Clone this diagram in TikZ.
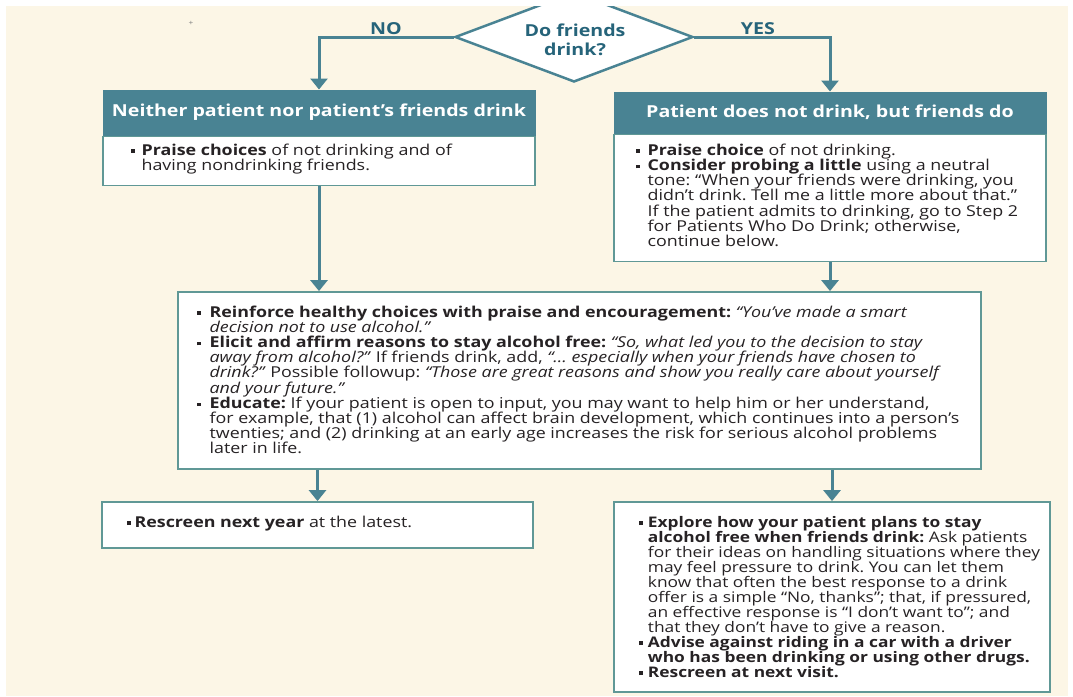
\documentclass[tikz,border=0pt]{standalone}
\usepackage{fontspec}
\setmainfont{Open Sans}[FakeStretch=1.19]
\usetikzlibrary{shapes.geometric,arrows.meta}
\frenchspacing
\definecolor{cream}{RGB}{252,246,230}
\definecolor{teal}{RGB}{73,131,147}
\definecolor{boxline}{RGB}{96,152,150}
\definecolor{ink}{RGB}{38,34,36}
\definecolor{qtext}{RGB}{38,100,122}
\newcommand\sq{\raisebox{0.25ex}{\rule{3.6pt}{3.6pt}}}
\newlength\bw
\newcommand\blist[3]{\setlength\bw{#1}\vtop{\baselineskip=#2\relax\lineskiplimit=-50pt\lineskip=0pt\relax #3}}
\newcommand\bi[1]{\hbox{\hbox to\bw{\sq\hss}#1}}
\newcommand\cl[1]{\hbox{\hbox to\bw{\hss}#1}}
\tikzset{
  arr/.style={draw=teal, line width=3pt, -{Triangle[width=17pt,length=11pt]}},
  head/.style={fill=teal, draw=teal, line width=1pt, text=white, inner sep=0pt,
    font=\bfseries\fontsize{16.5}{18}\selectfont},
  body/.style={fill=white, draw=boxline, line width=1.8pt, inner sep=0pt},
  txt/.style={anchor=base west, inner sep=0pt, outer sep=0pt, text=ink,
    font=\fontsize{15}{15.2}\selectfont},
  dia/.style={diamond, aspect=2.6, fill=white, draw=teal, line width=2.5pt,
    minimum width=238pt, minimum height=90pt, inner sep=0pt},
  qlbl/.style={text=qtext, inner sep=0pt, align=center,
    font=\bfseries\fontsize{16.5}{19}\selectfont}
}
\begin{document}
\begin{tikzpicture}[x=1pt,y=-1pt]
\useasboundingbox (0,0) rectangle (1073,696);
\fill[cream] (6,6) rectangle (1068,696);
\node[text=gray, inner sep=0pt, font=\fontsize{7}{7}\selectfont] (mark) at (191,23) {+};

% decision
\begin{scope}
\clip (0,6) rectangle (1073,700);
\node[dia] (q) at (574,37) {};
\end{scope}
\node[qlbl] (qt) at (575,40) {Do friends\\drink?};
\node[qlbl] (no) at (386,29) {NO};
\node[qlbl] (yes) at (758,29) {YES};

% left branch
\node[head, minimum width=432pt, minimum height=45pt] (h1) at (319,112.5)
  {Neither patient nor patient’s friends drink};
\node[body, minimum width=432pt, minimum height=49pt, anchor=north] (b1) at (h1.south) {};
\node[txt] (t1) at (131,155) {\blist{10.6pt}{15.2pt}{%
\bi{\textbf{Praise choices} of not drinking and of}
\cl{having nondrinking friends.}}};

% right branch
\node[head, minimum width=432pt, minimum height=41pt] (h2) at (830,112.5)
  {Patient does not drink, but friends do};
\node[body, minimum width=432pt, minimum height=127pt, anchor=north] (b2) at (h2.south) {};
\node[txt] (t2) at (636,155) {\blist{11.6pt}{15.3pt}{%
\bi{\textbf{Praise choice} of not drinking.}
\bi{\textbf{Consider probing a little} using a neutral}
\cl{tone: “When your friends were drinking, you}
\cl{didn’t drink. Tell me a little more about that.”}
\cl{If the patient admits to drinking, go to Step 2}
\cl{for Patients Who Do Drink; otherwise,}
\cl{continue below.}}};

% middle
\node[body, minimum width=803pt, minimum height=177pt] (m) at (579.5,380.5) {};
\node[txt] (tm) at (197,317) {\blist{12.6pt}{15.2pt}{%
\bi{\textbf{Reinforce healthy choices with praise and encouragement:} \textit{“You’ve made a smart}}
\cl{\textit{decision not to use alcohol.”}}
\bi{\textbf{Elicit and affirm reasons to stay alcohol free:} \textit{“So, what led you to the decision to stay}}
\cl{\textit{away from alcohol?”} If friends drink, add, \textit{“… especially when your friends have chosen to}}
\cl{\textit{drink?”} Possible followup: \textit{“Those are great reasons and show you really care about yourself}}
\cl{\textit{and your future.”}}
\bi{\textbf{Educate:} If your patient is open to input, you may want to help him or her understand,}
\cl{for example, that (1) alcohol can affect brain development, which continues into a person’s}
\cl{twenties; and (2) drinking at an early age increases the risk for serious alcohol problems}
\cl{later in life.}}};

% bottom
\node[body, minimum width=431pt, minimum height=46pt] (bl) at (317.5,525) {};
\node[txt] (tbl) at (127,527) {\blist{7.6pt}{15pt}{%
\bi{\textbf{Rescreen next year} at the latest.}}};

\node[body, minimum width=436pt, minimum height=190pt] (br) at (832,597) {};
\node[txt, font=\fontsize{14.6}{15}\selectfont] (tbr) at (639,527) {\blist{8.9pt}{15pt}{%
\bi{\textbf{Explore how your patient plans to stay}}
\cl{\textbf{alcohol free when friends drink:} Ask patients}
\cl{for their ideas on handling situations where they}
\cl{may feel pressure to drink. You can let them}
\cl{know that often the best response to a drink}
\cl{offer is a simple “No, thanks”; that, if pressured,}
\cl{an effective response is “I don’t want to”; and}
\cl{that they don’t have to give a reason.}
\bi{\textbf{Advise against riding in a car with a driver}}
\cl{\textbf{who has been drinking or using other drugs.}}
\bi{\textbf{Rescreen at next visit.}}}};

% connectors
\draw[arr] (q.west) -| (h1.north);
\draw[arr] (q.east) -| (h2.north);
\draw[arr] (b1.south) -- (b1.south |- m.north);
\draw[arr] (b2.south) -- (b2.south |- m.north);
\draw[arr] (bl.north |- m.south) -- (bl.north);
\draw[arr] (br.north |- m.south) -- (br.north);
\end{tikzpicture}
\end{document}
